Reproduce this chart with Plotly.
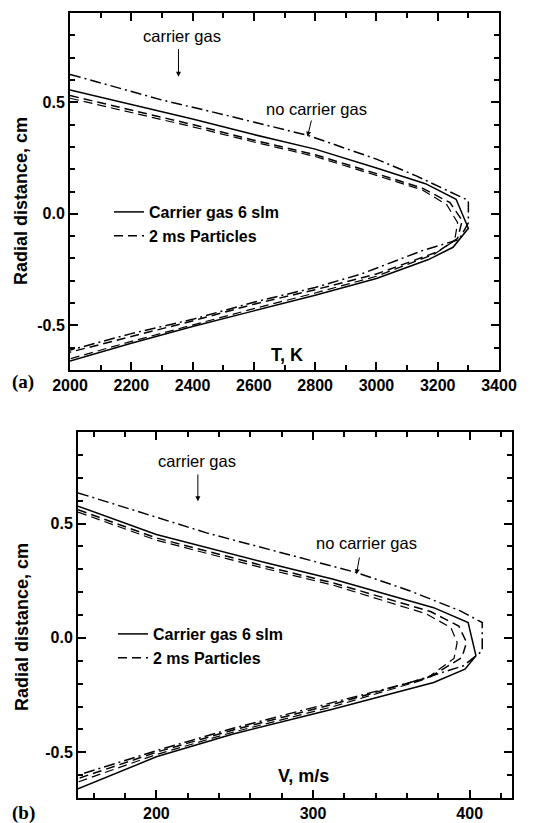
import plotly.graph_objects as go

W, H = 551, 823

# ---------------- Panel (a): temperature ----------------
t_solid = [2000, 2200, 2400, 2600, 2800, 3000, 3160, 3260, 3300, 3250, 3170, 3000, 2800, 2600, 2400, 2200, 2000]
r_solid = [0.555, 0.49, 0.425, 0.355, 0.29, 0.205, 0.135, 0.065, -0.065, -0.15, -0.205, -0.29, -0.365, -0.435, -0.505, -0.58, -0.66]

t_dd = [2000, 2300, 2500, 2780, 3000, 3130, 3230, 3300, 3300, 3270, 3150, 2950, 2800, 2600, 2400, 2200, 2000]
r_dd = [0.625, 0.51, 0.445, 0.35, 0.245, 0.17, 0.105, 0.06, -0.04, -0.115, -0.165, -0.27, -0.33, -0.396, -0.473, -0.537, -0.611]

t_dash1 = [2000, 2200, 2400, 2600, 2800, 3000, 3150, 3240, 3280, 3265, 3200, 3000, 2800, 2600, 2400, 2200, 2000]
r_dash1 = [0.53, 0.465, 0.4, 0.33, 0.265, 0.18, 0.115, 0.05, -0.03, -0.11, -0.17, -0.27, -0.34, -0.405, -0.48, -0.55, -0.62]

t_dash2 = [2000, 2200, 2400, 2600, 2800, 3000, 3150, 3230, 3265, 3255, 3190, 3000, 2800, 2600, 2400, 2200, 2000]
r_dash2 = [0.518, 0.455, 0.39, 0.322, 0.257, 0.172, 0.107, 0.04, -0.04, -0.12, -0.18, -0.28, -0.355, -0.425, -0.497, -0.572, -0.65]

# ---------------- Panel (b): velocity ----------------
v_solid = [150, 200, 270, 313, 377, 399, 404, 397, 377, 313, 249, 200, 150]
rv_solid = [0.576, 0.452, 0.328, 0.256, 0.132, 0.067, -0.078, -0.137, -0.195, -0.311, -0.42, -0.52, -0.66]

v_dd = [150, 232, 328, 362, 394, 408, 408, 396, 362, 313, 249, 200, 150]
rv_dd = [0.634, 0.459, 0.285, 0.205, 0.118, 0.067, -0.057, -0.122, -0.195, -0.282, -0.395, -0.493, -0.6]

v_dash1 = [150, 200, 270, 313, 375, 393, 398, 395, 375, 313, 249, 200, 150]
rv_dash1 = [0.56, 0.437, 0.312, 0.24, 0.115, 0.052, -0.02, -0.086, -0.17, -0.29, -0.403, -0.5, -0.615]

v_dash2 = [150, 200, 270, 313, 372, 388, 392, 390, 372, 313, 249, 200, 150]
rv_dash2 = [0.55, 0.427, 0.302, 0.23, 0.106, 0.045, -0.02, -0.09, -0.18, -0.30, -0.412, -0.51, -0.63]

legend_names = ["Carrier gas 6 slm", "2 ms Particles"]
y_tickvals = [-0.5, 0.0, 0.5]
y_ticktext = ["-0.5", "0.0", "0.5"]
y_title = "Radial distance, cm"

FONT = "Liberation Sans, Arial, sans-serif"
BLK = "black"
LW = 1.5
DASH = "9px,5px"
DASHDOT = "11px,4px,2px,4px"

fig = go.Figure()

def add_set(xr, ya, xs, ys, xd, yd, xd1, yd1, xd2, yd2, leg):
    fig.add_trace(go.Scatter(x=xd, y=yd, xaxis=xr, yaxis=ya, mode="lines",
                             line=dict(color=BLK, width=LW, dash=DASHDOT), showlegend=False))
    fig.add_trace(go.Scatter(x=xs, y=ys, xaxis=xr, yaxis=ya, mode="lines", name=legend_names[0],
                             line=dict(color=BLK, width=LW), legend=leg))
    fig.add_trace(go.Scatter(x=xd1, y=yd1, xaxis=xr, yaxis=ya, mode="lines", name=legend_names[1],
                             line=dict(color=BLK, width=LW, dash=DASH), legend=leg))
    fig.add_trace(go.Scatter(x=xd2, y=yd2, xaxis=xr, yaxis=ya, mode="lines",
                             line=dict(color=BLK, width=1.2, dash=DASH), showlegend=False))

add_set("x", "y", t_solid, r_solid, t_dd, r_dd, t_dash1, r_dash1, t_dash2, r_dash2, "legend")
add_set("x2", "y2", v_solid, rv_solid, v_dd, rv_dd, v_dash1, rv_dash1, v_dash2, rv_dash2, "legend2")

def xaxis_common(rng, dtick, mdtick, dom, anchor):
    return dict(range=rng, domain=dom, anchor=anchor, dtick=dtick, tick0=0, automargin=False,
                showline=True, linecolor=BLK, linewidth=2, mirror="allticks",
                ticks="inside", ticklen=8, tickwidth=2, tickcolor=BLK,
                minor=dict(ticks="inside", ticklen=5, tickwidth=1.5, tickcolor=BLK, dtick=mdtick, tick0=0),
                showgrid=False, zeroline=False,
                tickfont=dict(family=FONT, size=16, color=BLK, weight="bold"))

def yaxis_common(dom, anchor):
    return dict(range=[-0.7, 0.9], domain=dom, anchor=anchor, automargin=False,
                tickvals=y_tickvals, ticktext=y_ticktext,
                showline=True, linecolor=BLK, linewidth=2, mirror="allticks",
                ticks="inside", ticklen=8, tickwidth=2, tickcolor=BLK,
                minor=dict(ticks="inside", ticklen=5, tickwidth=1.5, tickcolor=BLK, dtick=0.1, tick0=0),
                showgrid=False, zeroline=False,
                tickfont=dict(family=FONT, size=16, color=BLK, weight="bold"))

fig.update_layout(
    width=W, height=H, margin=dict(l=0, r=0, t=0, b=0, autoexpand=False),
    paper_bgcolor="white", plot_bgcolor="white",
    xaxis=xaxis_common([2000, 3400], 200, 100, [70 / W, 499 / W], "y"),
    yaxis=yaxis_common([1 - 370 / H, 1 - 13 / H], "x"),
    xaxis2=xaxis_common([150, 427], 100, 20, [78 / W, 512 / W], "y2"),
    yaxis2=yaxis_common([1 - 798 / H, 1 - 432 / H], "x2"),
    legend=dict(x=109 / W, y=1 - 224 / H, xanchor="left", yanchor="middle",
                bgcolor="rgba(0,0,0,0)", tracegroupgap=0,
                font=dict(family=FONT, size=16, color=BLK, weight="bold")),
    legend2=dict(x=113 / W, y=1 - 646 / H, xanchor="left", yanchor="middle",
                 bgcolor="rgba(0,0,0,0)", tracegroupgap=0,
                 font=dict(family=FONT, size=16, color=BLK, weight="bold")),
    showlegend=True,
)

TXT = dict(family=FONT, size=16.5, color=BLK)
TXTB = dict(family=FONT, size=18, color=BLK, weight="bold")
SERIF = dict(family="Liberation Serif, Times New Roman, serif", size=19, color=BLK, weight="bold")
ann = []
# y titles
ann.append(dict(x=21 / W, y=1 - 201 / H, xref="paper", yref="paper", text=y_title, textangle=-90,
                xanchor="center", yanchor="middle", showarrow=False, font=TXTB))
ann.append(dict(x=22 / W, y=1 - 627 / H, xref="paper", yref="paper", text=y_title, textangle=-90,
                xanchor="center", yanchor="middle", showarrow=False, font=TXTB))
# panel a
ann.append(dict(x=2367, y=0.797, xref="x", yref="y", text="carrier gas", showarrow=False, font=TXT))
ann.append(dict(x=2354, y=0.614, ax=2354, ay=0.745, xref="x", yref="y", axref="x", ayref="y",
                text="", showarrow=True, arrowhead=2, arrowsize=1, arrowwidth=1, arrowcolor=BLK))
ann.append(dict(x=2805, y=0.469, xref="x", yref="y", text="no carrier gas", showarrow=False, font=TXT))
ann.append(dict(x=2775, y=0.346, ax=2789, ay=0.425, xref="x", yref="y", axref="x", ayref="y",
                text="", showarrow=True, arrowhead=2, arrowsize=1, arrowwidth=1, arrowcolor=BLK))
ann.append(dict(x=2709, y=-0.633, xref="x", yref="y", text="T, K", showarrow=False, font=TXTB))
ann.append(dict(x=23 / W, y=1 - 382 / H, xref="paper", yref="paper", text="(a)", showarrow=False,
                xanchor="center", yanchor="middle", font=SERIF))
# panel b
ann.append(dict(x=225.8, y=0.772, xref="x2", yref="y2", text="carrier gas", showarrow=False, font=TXT))
ann.append(dict(x=226.5, y=0.597, ax=226.5, ay=0.721, xref="x2", yref="y2", axref="x2", ayref="y2",
                text="", showarrow=True, arrowhead=2, arrowsize=1, arrowwidth=1, arrowcolor=BLK))
ann.append(dict(x=334, y=0.416, xref="x2", yref="y2", text="no carrier gas", showarrow=False, font=TXT))
ann.append(dict(x=327.7, y=0.278, ax=329.8, ay=0.358, xref="x2", yref="y2", axref="x2", ayref="y2",
                text="", showarrow=True, arrowhead=2, arrowsize=1, arrowwidth=1, arrowcolor=BLK))
ann.append(dict(x=293.7, y=-0.602, xref="x2", yref="y2", text="V, m/s", showarrow=False, font=TXTB))
ann.append(dict(x=23 / W, y=1 - 813 / H, xref="paper", yref="paper", text="(b)", showarrow=False,
                xanchor="center", yanchor="middle", font=SERIF))
fig.update_layout(annotations=ann)

fig.write_html("out.html")
